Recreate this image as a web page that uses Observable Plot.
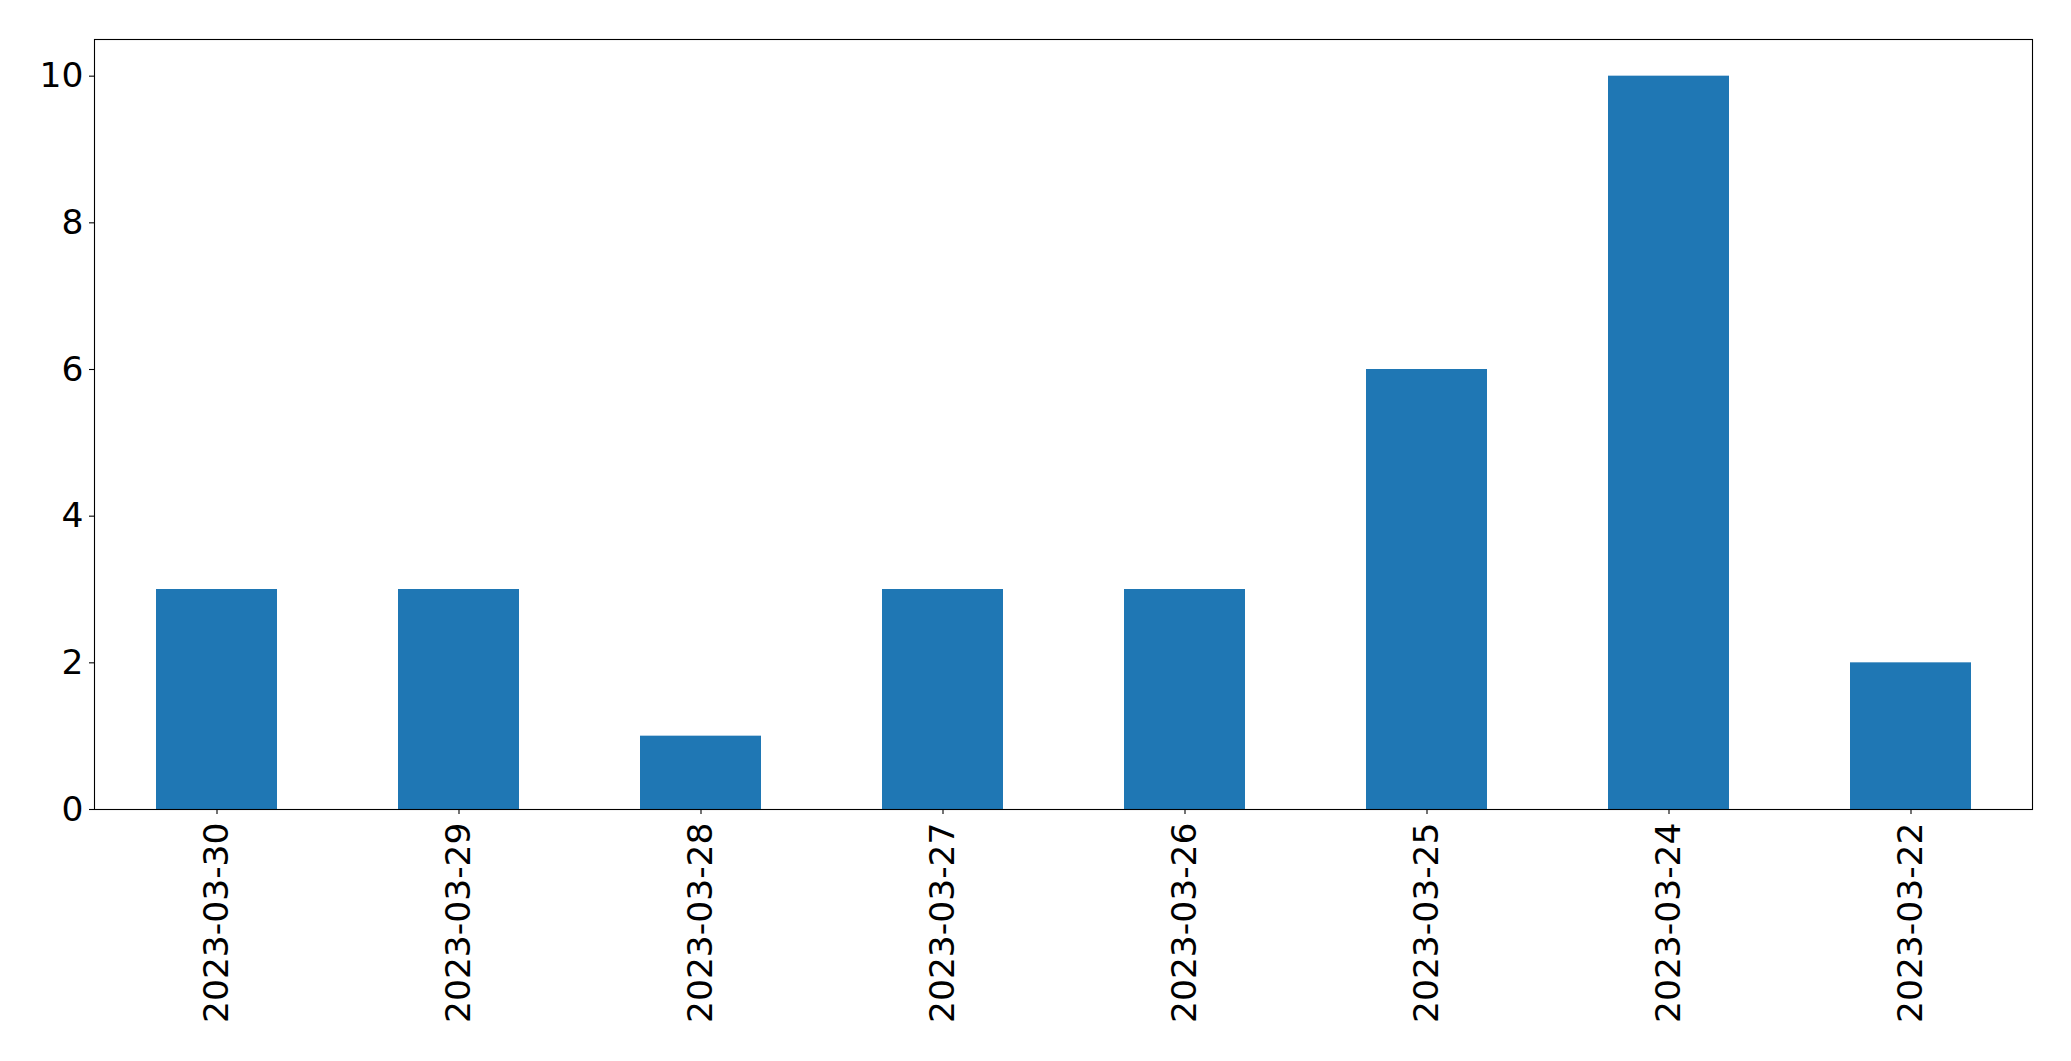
<!DOCTYPE html>
<html>
<head>
<meta charset="utf-8">
<script src="https://cdn.jsdelivr.net/npm/d3@7"></script>
<script src="https://cdn.jsdelivr.net/npm/@observablehq/plot@0.6"></script>
<style>
  html, body { margin: 0; padding: 0; background: #fff; }
  #chart svg { display: block; }
</style>
</head>
<body>
<div id="chart"></div>
<script>
const dates = ["2023-03-30", "2023-03-29", "2023-03-28", "2023-03-27", "2023-03-26", "2023-03-25", "2023-03-24", "2023-03-22"];
const counts = [3, 3, 1, 3, 3, 6, 10, 2];
const yTicks = [0, 2, 4, 6, 8, 10];

const data = dates.map((d, i) => ({date: d, count: counts[i]}));

const chart = Plot.plot({
  width: 2071,
  height: 1061,
  marginLeft: 94,
  marginRight: 39,
  marginTop: 39,
  marginBottom: 252,
  style: {fontFamily: "DejaVu Sans", fontSize: "34.5px", color: "#000", background: "#fff"},
  x: {domain: dates, paddingInner: 0.5, paddingOuter: 0.25, label: null},
  y: {domain: [0, 10.5], label: null},
  marks: [
    Plot.barY(data, {x: "date", y: "count", fill: "#1f77b4"}),
    Plot.axisX({tickRotate: -90, tickSize: 5, tickPadding: 8, stroke: "#000", strokeWidth: 1.1, label: null, fontSize: 34.5}),
    Plot.axisY({ticks: yTicks, tickSize: 5, tickPadding: 6, stroke: "#000", strokeWidth: 1.1, label: null, fontSize: 34.5}),
    Plot.frame({stroke: "#000", strokeWidth: 1.1})
  ]
});
document.getElementById("chart").appendChild(chart);
</script>
</body>
</html>
